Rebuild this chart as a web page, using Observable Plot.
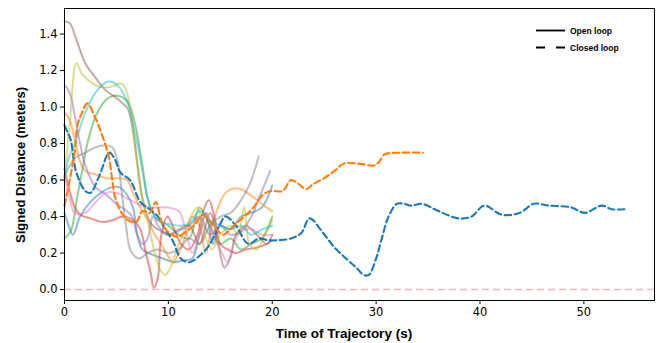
<!DOCTYPE html>
<html>
<head>
<meta charset="utf-8">
<script src="https://cdn.jsdelivr.net/npm/d3@7"></script>
<script src="https://cdn.jsdelivr.net/npm/@observablehq/plot@0.6"></script>
<style>
  html, body { margin: 0; padding: 0; background: #fff; }
  #chart { width: 659px; height: 343px; }
</style>
</head>
<body>
<div id="chart"></div>
<script>
// ---- Open-loop trajectories (time s, signed distance m) ----
const openBlueT   = [0,0.4,0.8,1.5,2.5,3.5,4.5,5.3,6,6.6,7,7.5,8.5,9.5,10.5,11.5,12.3,13,13.6,14.3,15,16,17,18,19,20];
const openBlueV   = [0.42,0.35,0.3,0.4,0.48,0.53,0.56,0.56,0.52,0.45,0.3,0.22,0.19,0.17,0.15,0.16,0.17,0.3,0.42,0.25,0.35,0.33,0.4,0.42,0.45,0.57];
const openOrangeT = [0,0.5,1,1.5,2,3,4,5,6,6.6,7.3,8,8.7,9.3,10,10.5,11,11.7,12.3,13,13.6,14.2,15,15.5,16,17,18.3,19.2,20];
const openOrangeV = [0.97,0.93,0.82,0.7,0.65,0.63,0.61,0.61,0.6,0.53,0.45,0.38,0.3,0.25,0.18,0.15,0.2,0.3,0.4,0.35,0.2,0.35,0.48,0.53,0.55,0.55,0.5,0.46,0.43];
const openGreenT  = [0,0.6,1.2,1.7,2.2,3,4,4.6,5.3,5.9,6.4,6.9,7.5,8,8.5,9,10,11,12,13,14,15,16,17,18,19,20];
const openGreenV  = [0.28,0.32,0.5,0.65,0.8,0.95,1.04,1.06,1.06,1.04,0.99,0.88,0.68,0.5,0.42,0.38,0.35,0.3,0.28,0.45,0.35,0.25,0.28,0.22,0.25,0.28,0.4];
const openRedT    = [0,0.5,1,1.5,2.5,3.7,4.6,5.6,6.6,7.3,7.8,8.3,8.6,9,9.3,9.9,10.5,11.2,12,12.8,13.3,13.9,14.5,15,15.7,16.5,17.5,18.5,19.5,20];
const openRedV    = [0.66,0.54,0.45,0.41,0.39,0.37,0.38,0.4,0.38,0.33,0.21,0.09,0.01,0.07,0.29,0.4,0.34,0.25,0.22,0.3,0.42,0.49,0.38,0.25,0.22,0.2,0.22,0.23,0.25,0.27];
const openPurpleT = [0,0.3,0.6,1,1.5,2,3,4,5,6,6.5,7,7.5,8,8.5,9,10,11,12,13,14,15,16,17,18,18.7,19.3,19.8];
const openPurpleV = [1.12,1.1,1.06,0.95,0.8,0.68,0.56,0.52,0.47,0.43,0.4,0.3,0.25,0.28,0.4,0.35,0.3,0.32,0.35,0.4,0.3,0.35,0.3,0.32,0.4,0.5,0.58,0.65];
const openBrownT  = [0,0.5,1.2,2,3,4,5,5.6,6.1,6.5,7,7.5,8,8.5,9,10,11,12,13,14,14.8,15.4,16,16.5,17.5,18.5,19.5,20];
const openBrownV  = [1.47,1.46,1.36,1.24,1.16,1.09,1.05,1.02,0.99,0.9,0.7,0.5,0.4,0.35,0.33,0.3,0.33,0.35,0.25,0.42,0.25,0.12,0.18,0.3,0.35,0.3,0.25,0.3];
const openPinkT   = [0,0.5,1,2,3,4,5,6,7,8,9,10,11,11.7,12.3,13,13.7,14.3,15,15.7,16.3,17,18,19,20];
const openPinkV   = [0.62,0.5,0.42,0.42,0.48,0.53,0.53,0.5,0.47,0.45,0.45,0.45,0.43,0.32,0.2,0.3,0.42,0.3,0.22,0.15,0.25,0.32,0.33,0.3,0.3];
const openGrayT   = [0,1,2,3,4,4.6,5.1,5.5,5.9,6.4,7.2,8,9,10,11,12,13,14,15,16,17,18,18.7];
const openGrayV   = [0.62,0.72,0.75,0.78,0.79,0.78,0.71,0.54,0.36,0.21,0.17,0.2,0.22,0.2,0.22,0.28,0.25,0.35,0.4,0.42,0.49,0.6,0.73];
const openOliveT  = [0,0.5,1.15,1.7,2.7,3.5,4.4,5.4,5.8,6.3,6.8,7.3,8,8.7,9.3,9.7,10.2,11,12,12.8,13.5,14.2,15,16,16.7,17.3,17.8,18.5,19.3,20];
const openOliveV  = [0.62,0.9,1.24,1.18,1.13,1.11,1.11,1.13,1.11,1.01,0.78,0.55,0.38,0.2,0.1,0.08,0.12,0.25,0.38,0.45,0.3,0.22,0.3,0.35,0.3,0.45,0.25,0.22,0.3,0.38];
const openCyanT   = [0,0.4,1,2,3,4.2,5.1,6.1,6.6,7,7.5,8,8.5,9,10,11,12,13,14,15,16,17,18,19,20];
const openCyanV   = [0.6,0.72,0.8,0.97,1.08,1.14,1.12,1.02,0.9,0.8,0.65,0.5,0.42,0.38,0.36,0.35,0.36,0.43,0.38,0.35,0.33,0.35,0.3,0.33,0.35];

// ---- Closed-loop trajectories ----
const closedBlueT = [0,0.3,0.6,1.1,2,2.5,3.4,4.3,4.8,5.4,6.3,7.3,8.2,9,9.7,10.4,11.2,12,12.9,13.9,14.9,15.5,16.5,17.7,18.7,19.6,20.5,21.8,22.8,23.6,24.9,26,27.1,28.1,28.8,29.3,30,30.5,31.2,32,32.7,33.4,34.4,36,37.9,39.2,40.4,42.1,43.8,45.2,46.6,48.8,50.1,51.7,52.7,53.9];
const closedBlueV = [0.9,0.86,0.82,0.65,0.54,0.53,0.63,0.75,0.72,0.64,0.6,0.48,0.44,0.4,0.33,0.27,0.17,0.15,0.18,0.24,0.35,0.4,0.35,0.25,0.28,0.27,0.27,0.28,0.31,0.39,0.31,0.23,0.17,0.12,0.08,0.08,0.17,0.27,0.4,0.47,0.47,0.46,0.47,0.43,0.39,0.4,0.46,0.41,0.42,0.47,0.46,0.45,0.42,0.46,0.44,0.44];
const closedOrangeT = [0,0.5,1,1.25,1.7,2.2,2.9,3.4,3.9,4.3,4.6,4.9,5.5,6.1,6.9,7.5,8.2,8.8,9.3,9.9,10.8,11.8,12.6,13.3,14.1,14.8,15.3,16.3,17.3,18.2,19.1,19.9,21,21.8,22.5,23.3,24,25,26,26.9,28.3,29.8,30.3,30.8,32.4,34.5];
const closedOrangeV = [0.46,0.6,0.76,0.9,0.97,1.02,0.95,0.88,0.8,0.72,0.6,0.5,0.42,0.38,0.37,0.43,0.42,0.48,0.38,0.32,0.29,0.32,0.36,0.41,0.37,0.32,0.3,0.35,0.4,0.45,0.52,0.54,0.54,0.6,0.58,0.55,0.58,0.61,0.65,0.69,0.69,0.68,0.7,0.74,0.75,0.75];

// ---- Axis ticks ----
const xTicks = [0, 10, 20, 30, 40, 50];
const yTicks = [0.0, 0.2, 0.4, 0.6, 0.8, 1.0, 1.2, 1.4];
const referenceLevel = [0];

const legendLabels = ["Open loop", "Closed loop"];
const xLabel = "Time of Trajectory (s)";
const yLabel = "Signed Distance (meters)";

const tab10 = ["#1f77b4","#ff7f0e","#2ca02c","#d62728","#9467bd","#8c564b","#e377c2","#7f7f7f","#bcbd22","#17becf"];

const zip = (T, V) => T.map((t, i) => ({t, v: V[i]}));
const openSeries = [
  zip(openBlueT, openBlueV), zip(openOrangeT, openOrangeV), zip(openGreenT, openGreenV),
  zip(openRedT, openRedV), zip(openPurpleT, openPurpleV), zip(openBrownT, openBrownV),
  zip(openPinkT, openPinkV), zip(openGrayT, openGrayV), zip(openOliveT, openOliveV),
  zip(openCyanT, openCyanV)
];
const closedSeries = [zip(closedBlueT, closedBlueV), zip(closedOrangeT, closedOrangeV)];

const W = 659, H = 343;
const chart = Plot.plot({
  width: W, height: H,
  marginLeft: 64, marginRight: 5, marginTop: 8, marginBottom: 43,
  style: {fontFamily: "DejaVu Sans", fontSize: "11.5px", color: "#000", background: "#fff", overflow: "visible"},
  x: {domain: [0, 56.8]},
  y: {domain: [-0.06, 1.54]},
  marks: [
    Plot.ruleY(referenceLevel, {stroke: "#d62728", strokeOpacity: 0.32, strokeWidth: 1.6, strokeDasharray: "7,4"}),
    ...openSeries.map((s, i) => Plot.line(s, {x: "t", y: "v", stroke: tab10[i], strokeWidth: 2, strokeOpacity: 0.5, curve: "catmull-rom"})),
    ...closedSeries.map((s, i) => Plot.line(s, {x: "t", y: "v", stroke: tab10[i], strokeWidth: 2.1, strokeDasharray: "6.5,3.5", curve: "catmull-rom"})),
    Plot.frame({stroke: "#000", strokeWidth: 1}),
    Plot.axisX({ticks: xTicks, tickSize: 4, tickPadding: 3, label: null, tickFormat: d3.format("d"), fontSize: 11.5}),
    Plot.axisY({ticks: yTicks, tickSize: 4, tickPadding: 3, label: null, tickFormat: d3.format(".1f"), fontSize: 11.5})
  ]
});
document.getElementById("chart").appendChild(chart);

// axis titles and legend
const svg = d3.select(chart);
svg.append("text").text(xLabel)
  .attr("x", 344).attr("y", 338).attr("text-anchor", "middle")
  .attr("font-family", "Liberation Sans, Arial, sans-serif").attr("font-weight", "bold").attr("font-size", 13.5);
svg.append("text").text(yLabel)
  .attr("transform", "translate(25,165) rotate(-90)").attr("text-anchor", "middle")
  .attr("font-family", "Liberation Sans, Arial, sans-serif").attr("font-weight", "bold").attr("font-size", 13);

const lg = svg.append("g");
const lgRows = [{y: 30.5, dash: null}, {y: 47.5, dash: "9,11"}];
lgRows.forEach((r, i) => {
  const ln = lg.append("line").attr("x1", 536).attr("x2", 565).attr("y1", r.y).attr("y2", r.y)
    .attr("stroke", "#000").attr("stroke-width", 1.8);
  if (r.dash) ln.attr("stroke-dasharray", r.dash);
  lg.append("text").text(legendLabels[i]).attr("x", 570).attr("y", r.y + 3)
    .attr("text-anchor", "start")
    .attr("font-family", "Liberation Sans, Arial, sans-serif").attr("font-weight", "bold").attr("font-size", 8.5);
});
</script>
</body>
</html>
